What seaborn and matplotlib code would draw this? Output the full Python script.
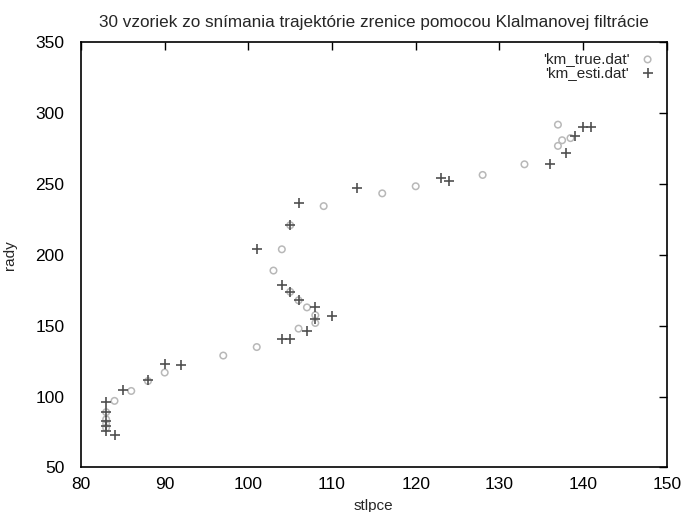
import matplotlib
matplotlib.use("Agg")
import matplotlib.pyplot as plt
import seaborn as sns
import pandas as pd

# measured pupil positions (column, row)
true_x = [83, 83, 83, 83, 84, 86, 88, 90, 97, 101, 106, 108, 108, 107, 106, 105,
          103, 104, 105, 109, 116, 120, 128, 133, 137, 137.5, 138.5, 137]
true_y = [78, 81, 84, 89, 97, 104, 111, 117, 129, 135, 148, 152, 157.5, 163, 168, 174,
          189, 204, 221, 234.5, 243.5, 248.5, 256.5, 264, 277, 281, 282.5, 292]

# Kalman filter estimates (column, row)
esti_x = [84, 83, 83, 83, 83, 83, 85, 88, 90, 92, 104, 105, 107, 108, 110, 108, 106,
          105, 104, 101, 105, 106, 113, 123, 124, 136, 138, 139, 140, 141]
esti_y = [73, 76, 79, 83, 89, 96, 105, 112, 123, 122, 140.5, 141, 146.5, 155, 157,
          163, 168, 174, 179, 204, 221, 237, 247, 254, 252, 264, 272, 284, 290, 290]

title = "30 vzoriek zo snímania trajektórie zrenice pomocou Klalmanovej filtrácie"
x_label = "stlpce"
y_label = "rady"
label_true = "'km_true.dat'"
label_esti = "'km_esti.dat'"
x_ticks = [80, 90, 100, 110, 120, 130, 140, 150]
y_ticks = [50, 100, 150, 200, 250, 300, 350]

sns.set_theme(style="white")
plt.rcParams["font.family"] = ["Liberation Sans", "DejaVu Sans"]

df_true = pd.DataFrame({"x": true_x, "y": true_y})
df_esti = pd.DataFrame({"x": esti_x, "y": esti_y})

fig = plt.figure(figsize=(6.81, 5.12), dpi=100)
ax = fig.add_axes([0.119, 0.087, 0.860, 0.830])

sns.scatterplot(data=df_true, x="x", y="y", ax=ax, marker="o", s=22,
                facecolors="none", edgecolor="#b8b8b8", linewidth=1.1,
                label=label_true)
sns.scatterplot(data=df_esti, x="x", y="y", ax=ax, marker="+", s=55,
                color="#505050", linewidth=1.2, label=label_esti)

ax.set_xlim(80, 150)
ax.set_ylim(50, 350)
ax.set_xticks(x_ticks)
ax.set_yticks(y_ticks)
ax.tick_params(axis="both", direction="in", length=6, width=1, color="black",
               top=True, right=True, labelsize=12.5, labelcolor="black")
ax.tick_params(axis="x", pad=7)
ax.tick_params(axis="y", pad=12)
for s in ax.spines.values():
    s.set_visible(True)
    s.set_color("black")
    s.set_linewidth(1.2)

ax.set_title(title, fontsize=12.3, pad=11)
ax.set_xlabel(x_label, fontsize=11, labelpad=5)
ax.set_ylabel(y_label, fontsize=11, labelpad=13)

leg = ax.legend(loc="upper right", frameon=False, markerfirst=False,
                fontsize=11, handletextpad=0.6, labelspacing=0.0,
                borderaxespad=0.25, handlelength=1.2)
for t in leg.get_texts():
    t.set_ha("right")

fig.savefig("out.png", dpi=100)
